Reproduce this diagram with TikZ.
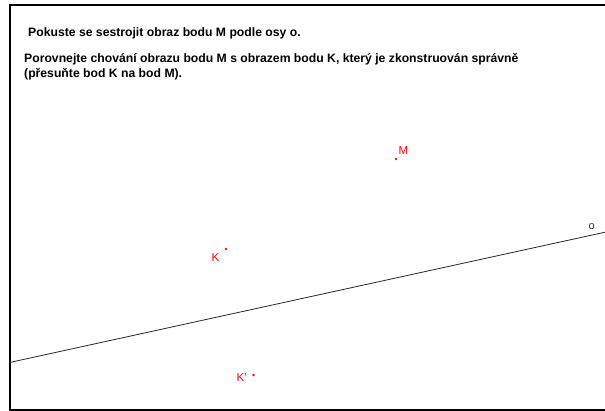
\documentclass[tikz,border=0pt]{standalone}
\usepackage{fontspec}
\setmainfont{Liberation Sans}
\begin{document}
\begin{tikzpicture}[x=1pt,y=-1pt,
  header/.style={anchor=base west,inner sep=0pt,font=\fontsize{12.2}{14}\selectfont\bfseries},
  ptlabel/.style={anchor=base west,inner sep=0pt,text=red,font=\fontsize{11.5}{13}\selectfont},
  ptdot/.style={circle,fill=red,inner sep=0pt,minimum size=2.8pt},
  axis/.style={line width=0.8pt,black!85}]
\useasboundingbox (0,0) rectangle (605,410);
\draw[line width=2pt] (10,5.3) rectangle (612,409.6);
\node[header] (t1) at (28,36) {Pokuste se sestrojit obraz bodu M podle osy o.};
\node[header] (t2) at (24,62) {Porovnejte chování obrazu bodu M s obrazem bodu K, který je zkonstruován správně};
\node[header] (t3) at (24,77) {(přesuňte bod K na bod M).};
\coordinate (o1) at (10,362.4);
\coordinate (o2) at (605,232.2);
\draw[axis] (o1) -- (o2);
\node[anchor=base west,inner sep=0pt,font=\fontsize{11}{13}\selectfont,text=black!80] (olab) at (588.5,229) {o};
\node[ptdot] (M) at (396,159) {};
\node[ptdot] (K) at (226,249) {};
\node[ptdot] (Kp) at (253.5,375) {};
\node[ptlabel] (Mlab) at (398.5,154) {M};
\node[ptlabel] (Klab) at (211.5,261) {K};
\node[ptlabel] (Kplab) at (236.5,381) {K\textquotesingle};
\end{tikzpicture}
\end{document}
